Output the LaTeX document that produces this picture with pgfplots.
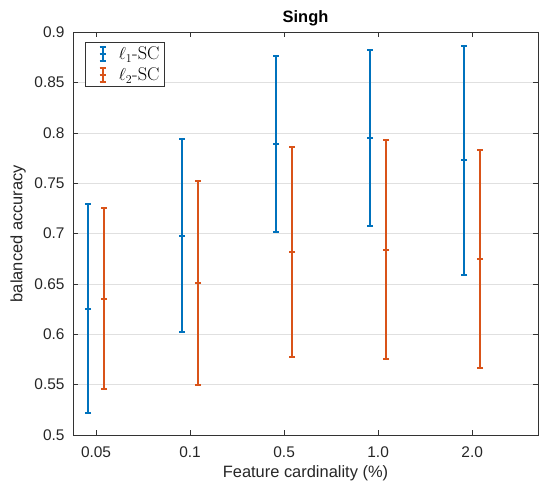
\documentclass[border=0pt]{standalone}
\usepackage{fontspec}
\setsansfont{Liberation Sans}
\usepackage{pgfplots}
\pgfplotsset{compat=1.18}
\definecolor{mblue}{rgb}{0,0.447,0.741}
\definecolor{morange}{rgb}{0.85,0.325,0.098}
\pgfplotstableread{
x y ep em
0.915 0.625 0.104 0.103
1.915 0.698 0.096 0.096
2.915 0.789 0.087 0.087
3.915 0.795 0.087 0.087
4.915 0.773 0.113 0.114
}\blue
\pgfplotstableread{
x y ep em
1.085 0.635 0.090 0.089
2.085 0.651 0.101 0.101
3.085 0.682 0.104 0.105
4.085 0.684 0.109 0.109
5.085 0.675 0.108 0.108
}\red
\begin{document}
\begin{tikzpicture}
\begin{axis}[
 at={(73bp,47bp)}, anchor=south west,
 scale only axis, width=465bp, height=402.7bp,
 xmin=0.755, xmax=5.7, ymin=0.5, ymax=0.9,
 xtick={1,2,3,4,5}, xticklabels={0.05,0.1,0.5,1.0,2.0},
 ytick={0.5,0.55,0.6,0.65,0.7,0.75,0.8,0.85,0.9},
 yticklabels={0.5,0.55,0.6,0.65,0.7,0.75,0.8,0.85,0.9},
 ymajorgrids, grid style={black!12, line width=0.7bp},
 tick align=inside, tick pos=both, major tick length=5bp,
 axis line style={black!80, line width=0.7bp},
 every tick/.style={black!80, line width=0.7bp},
 tick label style={font=\sffamily\fontsize{15.5}{18}\selectfont, black!85},
 yticklabel style={anchor=east, xshift=-5bp},
 xticklabel style={anchor=center, yshift=-17.5bp},
 xlabel={Feature cardinality (\%)},
 ylabel={balanced accuracy},
 xlabel style={font=\sffamily\fontsize{16.5}{19}\selectfont, black!85, at={(axis description cs:0.5,-0.095)}, anchor=center},
 ylabel style={font=\sffamily\fontsize{16.5}{19}\selectfont, black!85, at={(axis description cs:-0.118,0.5)}, anchor=center},
 title={Singh},
 title style={font=\sffamily\bfseries\fontsize{16.5}{19}\selectfont, at={(axis description cs:0.5,1.02)}, anchor=center},
 legend style={at={(0.026,0.975)}, anchor=north west, draw=black!80, line width=0.7bp,
   font=\fontsize{18.5}{20}\selectfont, inner xsep=3bp, inner ysep=2bp, row sep=3bp},
 legend cell align=left,
]
\addplot[color=mblue, line width=2bp, only marks, mark=-, mark size=3bp,
  error bars/.cd, y dir=both, y explicit, error mark=|, error bar style={line width=2bp, mblue},
  error mark options={mark size=3bp, line width=2bp, mblue},
  /pgfplots/legend image code/.code={
   \path[draw=none] (0cm,0bp) -- (1.0cm,0bp);
   \draw[mblue, line width=2bp] (0.5cm,-7bp) -- (0.5cm,7bp)
     (0.5cm-3bp,-7bp) -- (0.5cm+3bp,-7bp) (0.5cm-3bp,7bp) -- (0.5cm+3bp,7bp)
     (0.5cm-3bp,0bp) -- (0.5cm+3bp,0bp);}]
  table[x=x, y=y, y error plus=ep, y error minus=em] {\blue};
\addlegendentry{$\ell_1$-SC}
\addplot[color=morange, line width=2bp, only marks, mark=-, mark size=3bp,
  error bars/.cd, y dir=both, y explicit, error mark=|, error bar style={line width=2bp, morange},
  error mark options={mark size=3bp, line width=2bp, morange},
  /pgfplots/legend image code/.code={
   \path[draw=none] (0cm,0bp) -- (1.0cm,0bp);
   \draw[morange, line width=2bp] (0.5cm,-7bp) -- (0.5cm,7bp)
     (0.5cm-3bp,-7bp) -- (0.5cm+3bp,-7bp) (0.5cm-3bp,7bp) -- (0.5cm+3bp,7bp)
     (0.5cm-3bp,0bp) -- (0.5cm+3bp,0bp);}]
  table[x=x, y=y, y error plus=ep, y error minus=em] {\red};
\addlegendentry{$\ell_2$-SC}
\end{axis}
\pgfresetboundingbox
\useasboundingbox (0,0) rectangle (539bp,482bp);
\end{tikzpicture}
\end{document}
